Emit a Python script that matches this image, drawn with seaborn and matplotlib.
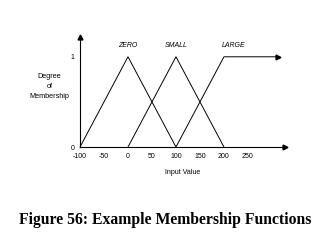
import matplotlib
matplotlib.use("Agg")
import matplotlib.pyplot as plt
import seaborn as sns
import pandas as pd

sns.set_theme(style="white")
plt.rcParams["font.family"] = ["Liberation Sans", "DejaVu Sans"]
plt.rcParams["text.color"] = "black"
plt.rcParams["axes.labelcolor"] = "black"

# Membership function breakpoints (input value, degree of membership)
zero_x = [-100, 0, 100]
zero_y = [0, 1, 0]
small_x = [0, 100, 200]
small_y = [0, 1, 0]
large_x = [100, 200, 312]
large_y = [0, 1, 1]

set_names = ["ZERO", "SMALL", "LARGE"]
label_x = [0, 100, 220]

x_ticks = [-100, -50, 0, 50, 100, 150, 200, 250]
y_ticks = [0, 1]

x_end = 327
y_top = 1.22

frames = []
for name, xs, ys in zip(set_names, [zero_x, small_x, large_x], [zero_y, small_y, large_y]):
    frames.append(pd.DataFrame({"x": xs, "y": ys, "set": name}))
df = pd.concat(frames, ignore_index=True)

fig = plt.figure(figsize=(3.31, 2.43), dpi=100)
ax = fig.add_axes([0.2417, 0.395, 0.619, 0.453])

sns.lineplot(data=df, x="x", y="y", units="set", estimator=None, sort=False,
             color="black", linewidth=0.7, ax=ax, legend=False)
for line in ax.lines:
    line.set_clip_on(False)

ax.set_xlim(-100, x_end)
ax.set_ylim(0, y_top)
for side in ["top", "right"]:
    ax.spines[side].set_visible(False)
for side in ["left", "bottom"]:
    ax.spines[side].set_linewidth(0.8)
    ax.spines[side].set_color("black")

# arrow heads on the axes and on the open end of LARGE
ax.plot([x_end], [0], marker=">", color="black", markersize=3.5, clip_on=False)
ax.plot([-100], [y_top], marker="^", color="black", markersize=3.5, clip_on=False)
ax.plot([large_x[-1]], [large_y[-1]], marker=">", color="black", markersize=3.5, clip_on=False)

ax.set_xticks(x_ticks)
ax.set_xticklabels([str(t) for t in x_ticks])
ax.set_yticks(y_ticks)
ax.set_yticklabels([str(t) for t in y_ticks])
ax.tick_params(axis="both", length=0, labelsize=5, colors="black", pad=4)

for name, lx in zip(set_names, label_x):
    ax.text(lx, 1.12, name, fontsize=5, fontstyle="italic", ha="center", va="center")

ax.set_xlabel("Input Value", fontsize=5, labelpad=7)
ax.text(-0.15, 0.55, "Degree\nof\nMembership", transform=ax.transAxes,
        fontsize=5.2, ha="center", va="center", linespacing=1.6)
ax.set_ylabel("")

fig.text(0.5, 0.095, "Figure 56: Example Membership Functions",
         fontsize=11.3, fontweight="bold", family="Liberation Serif",
         color="black", ha="center", va="center")

fig.savefig("out.png", dpi=100, facecolor="white")
